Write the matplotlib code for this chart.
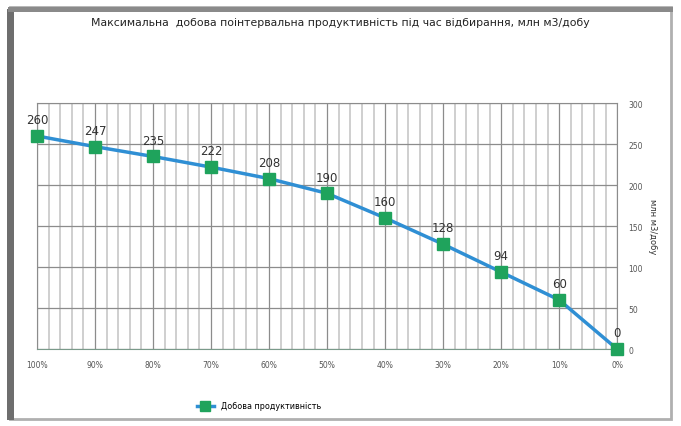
import numpy as np
import matplotlib.pyplot as plt
from matplotlib.patches import Rectangle
from matplotlib.ticker import MultipleLocator

# Data
categories = ['100%', '90%', '80%', '70%', '60%', '50%', '40%', '30%', '20%', '10%', '0%']
values = [260, 247, 235, 222, 208, 190, 160, 128, 94, 60, 0]
y_ticks = [0, 50, 100, 150, 200, 250, 300]

title = 'Максимальна  добова пoінтервальна продуктивність під час відбирання, млн м3/добу'
series_name = 'Добова продуктивність'
y_label = 'млн м3/добу'

fig = plt.figure(figsize=(6.81, 4.27), dpi=100)
fig.patch.set_facecolor('white')

# screenshot frame
fig.patches.append(Rectangle((0.014, 0.016), 0.972, 0.966, transform=fig.transFigure,
                             fill=False, edgecolor='#b0b0b0', linewidth=2.0, zorder=0))
fig.patches.append(Rectangle((0.010, 0.014), 0.010, 0.962, transform=fig.transFigure,
                             facecolor='#6e6e6e', edgecolor='none', zorder=0))
fig.patches.append(Rectangle((0.012, 0.970), 0.976, 0.012, transform=fig.transFigure,
                             facecolor='#8a8a8a', edgecolor='none', zorder=0))

ax = fig.add_axes([0.0543, 0.180, 0.852, 0.576])
x = np.arange(len(categories))

ax.plot(x, values, color='#2f8fd4', linewidth=2.5, marker='s', markersize=9,
        markerfacecolor='#1fa35c', markeredgecolor='#1fa35c', label=series_name,
        zorder=3, clip_on=False)

for xi, v in zip(x, values):
    ax.annotate(str(v), (xi, v), xytext=(0, 7), textcoords='offset points',
                ha='center', va='bottom', fontsize=8.5, color='#333333')

ax.set_xlim(0, len(categories) - 1)
ax.set_ylim(0, 300)
ax.set_xticks(x)
ax.set_xticklabels(categories, fontsize=5.5, color='#555555')
ax.xaxis.set_minor_locator(MultipleLocator(0.2))
ax.set_yticks(y_ticks)
ax.set_yticklabels([str(t) for t in y_ticks], fontsize=5.5, color='#555555')
ax.yaxis.tick_right()
ax.yaxis.set_label_position('right')
ax.set_ylabel(y_label, rotation=270, fontsize=6, color='#333333', labelpad=10)
ax.tick_params(axis='both', length=0, pad=8)

ax.grid(which='major', axis='both', color='#8c8c8c', linewidth=0.9)
ax.grid(which='minor', axis='x', color='#cfcfcf', linewidth=1.4)
ax.tick_params(which='minor', length=0)
ax.set_axisbelow(True)
for side in ['left', 'right', 'top']:
    ax.spines[side].set_color('#8c8c8c')
ax.spines['bottom'].set_color('#7a9a8a')

fig.text(0.5, 0.945, title, ha='center', va='center', fontsize=7.8, color='#222222')

fig.legend(loc='center', bbox_to_anchor=(0.38, 0.047), fontsize=5.8, frameon=False,
           handlelength=2.2, markerscale=0.8)

plt.savefig('out.png', dpi=100)
